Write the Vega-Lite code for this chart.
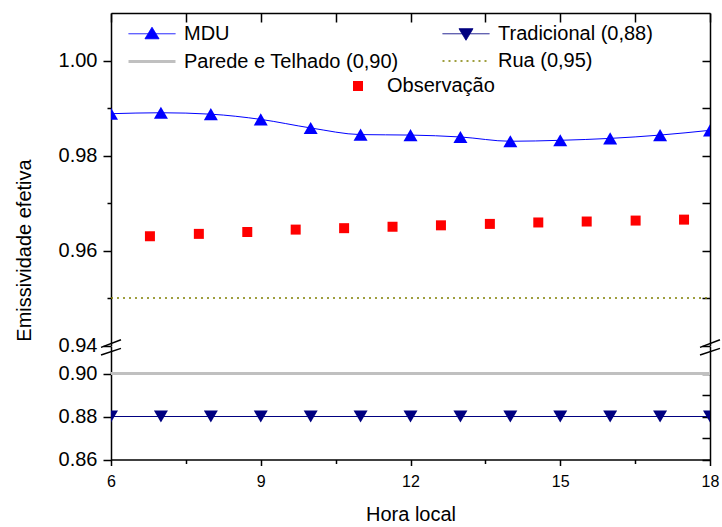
{
  "$schema": "https://vega.github.io/schema/vega-lite/v6.json",
  "padding": {"left": 14, "top": 12, "right": 0, "bottom": 0},
  "config": {
    "font": "Liberation Sans",
    "view": {"stroke": null},
    "axis": {"domainColor": "#000000", "tickColor": "#000000", "labelColor": "#000000", "titleColor": "#000000", "domainWidth": 1.5, "tickWidth": 1.5, "grid": false, "titleFontWeight": "normal", "labelFontSize": 20, "titleFontSize": 20, "labelFlush": false, "labelOverlap": false},
    "legend": {"labelColor": "#000000", "labelFontSize": 20, "labelLimit": 400, "symbolOpacity": 1}
  },
  "datasets": {
    "mdu": [
      {"hora": 6, "valor": 0.9888, "serie": "MDU"},
      {"hora": 7, "valor": 0.9890, "serie": "MDU"},
      {"hora": 8, "valor": 0.9887, "serie": "MDU"},
      {"hora": 9, "valor": 0.9876, "serie": "MDU"},
      {"hora": 10, "valor": 0.9858, "serie": "MDU"},
      {"hora": 11, "valor": 0.9844, "serie": "MDU"},
      {"hora": 12, "valor": 0.9843, "serie": "MDU"},
      {"hora": 13, "valor": 0.9839, "serie": "MDU"},
      {"hora": 14, "valor": 0.9830, "serie": "MDU"},
      {"hora": 15, "valor": 0.9832, "serie": "MDU"},
      {"hora": 16, "valor": 0.9836, "serie": "MDU"},
      {"hora": 17, "valor": 0.9843, "serie": "MDU"},
      {"hora": 18, "valor": 0.9853, "serie": "MDU"}
    ],
    "obs": [
      {"hora": 6.78, "valor": 0.9630, "serie": "Observação"},
      {"hora": 7.76, "valor": 0.9635, "serie": "Observação"},
      {"hora": 8.73, "valor": 0.9639, "serie": "Observação"},
      {"hora": 9.70, "valor": 0.9644, "serie": "Observação"},
      {"hora": 10.67, "valor": 0.9647, "serie": "Observação"},
      {"hora": 11.64, "valor": 0.9650, "serie": "Observação"},
      {"hora": 12.61, "valor": 0.9653, "serie": "Observação"},
      {"hora": 13.59, "valor": 0.9656, "serie": "Observação"},
      {"hora": 14.56, "valor": 0.9659, "serie": "Observação"},
      {"hora": 15.53, "valor": 0.9661, "serie": "Observação"},
      {"hora": 16.51, "valor": 0.9663, "serie": "Observação"},
      {"hora": 17.48, "valor": 0.9665, "serie": "Observação"}
    ],
    "trad": [
      {"hora": 6, "valor": 0.88, "serie": "Tradicional (0,88)"},
      {"hora": 7, "valor": 0.88, "serie": "Tradicional (0,88)"},
      {"hora": 8, "valor": 0.88, "serie": "Tradicional (0,88)"},
      {"hora": 9, "valor": 0.88, "serie": "Tradicional (0,88)"},
      {"hora": 10, "valor": 0.88, "serie": "Tradicional (0,88)"},
      {"hora": 11, "valor": 0.88, "serie": "Tradicional (0,88)"},
      {"hora": 12, "valor": 0.88, "serie": "Tradicional (0,88)"},
      {"hora": 13, "valor": 0.88, "serie": "Tradicional (0,88)"},
      {"hora": 14, "valor": 0.88, "serie": "Tradicional (0,88)"},
      {"hora": 15, "valor": 0.88, "serie": "Tradicional (0,88)"},
      {"hora": 16, "valor": 0.88, "serie": "Tradicional (0,88)"},
      {"hora": 17, "valor": 0.88, "serie": "Tradicional (0,88)"},
      {"hora": 18, "valor": 0.88, "serie": "Tradicional (0,88)"}
    ],
    "parede": [
      {"hora": 6, "valor": 0.90, "serie": "Parede e Telhado (0,90)"},
      {"hora": 18, "valor": 0.90, "serie": "Parede e Telhado (0,90)"}
    ],
    "rua": [
      {"hora": 6, "valor": 0.95, "serie": "Rua (0,95)"},
      {"hora": 18, "valor": 0.95, "serie": "Rua (0,95)"}
    ]
  },
  "spacing": 0,
  "bounds": "flush",
  "resolve": {"scale": {"color": "independent", "fill": "independent", "shape": "independent", "strokeDash": "independent", "strokeWidth": "independent"}},
  "vconcat": [
    {
      "width": 599,
      "height": 332.5,
      "resolve": {"scale": {"y": "independent"}, "axis": {"y": "independent"}},
      "layer": [
        {
          "layer": [
            {
              "data": {"name": "mdu"},
              "mark": {"type": "line", "interpolate": "monotone", "strokeWidth": 1, "clip": true},
              "encoding": {
                "x": {"field": "hora", "type": "quantitative", "scale": {"domain": [6, 18], "nice": false, "zero": false},
                  "axis": {"orient": "top", "values": [6, 7.5, 9, 10.5, 12, 13.5, 15, 16.5, 18], "labels": false, "tickSize": -9, "title": null}},
                "y": {"field": "valor", "type": "quantitative", "scale": {"domain": [0.94, 1.01], "nice": false, "zero": false},
                  "axis": {"orient": "left", "values": [0.94, 0.95, 0.96, 0.97, 0.98, 0.99, 1.0], "format": ".2f",
                    "labelExpr": "round(datum.value*100) % 2 == 0 ? datum.label : ''",
                    "tickSize": {"condition": {"test": "round(datum.value*100) % 2 == 0", "value": 8}, "value": 4},
                    "labelPadding": 6,
                    "title": "Emissividade efetiva", "titleX": -77, "titleY": 237, "titleAngle": 270, "titleAlign": "center", "titleBaseline": "bottom"}},
                "color": {"field": "serie", "type": "nominal",
                  "scale": {"domain": ["MDU", "Parede e Telhado (0,90)", "Tradicional (0,88)", "Rua (0,95)"], "range": ["#0000ff", "#c0c0c0", "#000080", "#808000"]},
                  "legend": {
                    "orient": "none", "legendX": 16, "legendY": 10, "columns": 2, "columnPadding": 40, "rowPadding": 6,
                    "title": null, "padding": 0, "symbolSize": 400, "labelOffset": 34, "labelFontSize": 20, "symbolOpacity": 1}}
              }
            },
            {
              "data": {"name": "mdu"},
              "mark": {"type": "point", "shape": "triangle-up", "filled": true, "size": 196, "opacity": 1, "clip": true},
              "encoding": {
                "x": {"field": "hora", "type": "quantitative", "scale": {"domain": [6, 18], "nice": false, "zero": false}},
                "y": {"field": "valor", "type": "quantitative", "scale": {"domain": [0.94, 1.01], "nice": false, "zero": false}},
                "color": {"field": "serie", "type": "nominal"}
              }
            },
            {
              "data": {"name": "mdu"},
              "mark": {"type": "point", "filled": true, "opacity": 0, "clip": true},
              "encoding": {
                "x": {"field": "hora", "type": "quantitative", "scale": {"domain": [6, 18], "nice": false, "zero": false}},
                "y": {"field": "valor", "type": "quantitative", "scale": {"domain": [0.94, 1.01], "nice": false, "zero": false}},
                "color": {"field": "serie", "type": "nominal"},
                "shape": {"field": "serie", "type": "nominal",
                  "scale": {"domain": ["MDU", "Parede e Telhado (0,90)", "Tradicional (0,88)", "Rua (0,95)"],
                    "range": ["M-1,0H3.7M0.65,0.5L1.35,-0.65L2.05,0.5Z", "M-1,0H3.7", "M-1,0H3.7M0.65,-0.5L1.35,0.65L2.05,-0.5Z", "M-1,0H3.7"]},
                  "legend": {"symbolOpacity": 1}},
                "strokeDash": {"field": "serie", "type": "nominal",
                  "scale": {"domain": ["MDU", "Parede e Telhado (0,90)", "Tradicional (0,88)", "Rua (0,95)"],
                    "range": [[1, 0], [1, 0], [1, 0], [2, 4]]},
                  "legend": {"symbolOpacity": 1}},
                "strokeWidth": {"field": "serie", "type": "nominal",
                  "scale": {"type": "ordinal", "domain": ["MDU", "Parede e Telhado (0,90)", "Tradicional (0,88)", "Rua (0,95)"],
                    "range": [1, 3, 1, 1.5]},
                  "legend": {"symbolOpacity": 1}}
              }
            },
            {
              "data": {"name": "obs"},
              "mark": {"type": "point", "shape": "square", "filled": true, "size": 100, "color": "#ff0000", "opacity": 1},
              "encoding": {
                "x": {"field": "hora", "type": "quantitative", "scale": {"domain": [6, 18], "nice": false, "zero": false}},
                "y": {"field": "valor", "type": "quantitative", "scale": {"domain": [0.94, 1.01], "nice": false, "zero": false}},
                "fill": {"field": "serie", "type": "nominal", "scale": {"domain": ["Observação"], "range": ["#ff0000"]},
                  "legend": {"orient": "none", "legendX": 237, "legendY": 63, "title": null, "padding": 0, "symbolSize": 100,
                    "symbolType": "square", "labelOffset": 19, "labelFontSize": 20}}
              }
            },
            {
              "data": {"values": [{}]},
              "mark": {"type": "rule", "color": "#000000", "strokeWidth": 1.5, "clip": false},
              "encoding": {
                "x": {"datum": 5.8, "type": "quantitative", "scale": {"domain": [6, 18], "nice": false, "zero": false}},
                "x2": {"datum": 6.2},
                "y": {"datum": 0.9396, "type": "quantitative", "scale": {"domain": [0.94, 1.01], "nice": false, "zero": false}},
                "y2": {"datum": 0.9412}
              }
            },
            {
              "data": {"values": [{}]},
              "mark": {"type": "rule", "color": "#000000", "strokeWidth": 1.5, "clip": false},
              "encoding": {
                "x": {"datum": 5.8, "type": "quantitative", "scale": {"domain": [6, 18], "nice": false, "zero": false}},
                "x2": {"datum": 6.2},
                "y": {"datum": 0.9380, "type": "quantitative", "scale": {"domain": [0.94, 1.01], "nice": false, "zero": false}},
                "y2": {"datum": 0.9394}
              }
            },
            {
              "data": {"values": [{}]},
              "mark": {"type": "rule", "color": "#000000", "strokeWidth": 1.5, "clip": false},
              "encoding": {
                "x": {"datum": 17.8, "type": "quantitative", "scale": {"domain": [6, 18], "nice": false, "zero": false}},
                "x2": {"datum": 18.2},
                "y": {"datum": 0.9396, "type": "quantitative", "scale": {"domain": [0.94, 1.01], "nice": false, "zero": false}},
                "y2": {"datum": 0.9412}
              }
            },
            {
              "data": {"values": [{}]},
              "mark": {"type": "rule", "color": "#000000", "strokeWidth": 1.5, "clip": false},
              "encoding": {
                "x": {"datum": 17.8, "type": "quantitative", "scale": {"domain": [6, 18], "nice": false, "zero": false}},
                "x2": {"datum": 18.2},
                "y": {"datum": 0.9380, "type": "quantitative", "scale": {"domain": [0.94, 1.01], "nice": false, "zero": false}},
                "y2": {"datum": 0.9394}
              }
            }
          ]
        },
        {
          "data": {"name": "rua"},
          "mark": {"type": "line", "strokeDash": [2, 4], "strokeWidth": 1.5},
          "encoding": {
            "x": {"field": "hora", "type": "quantitative", "scale": {"domain": [6, 18], "nice": false, "zero": false}},
            "y": {"field": "valor", "type": "quantitative", "scale": {"domain": [0.94, 1.01], "nice": false, "zero": false},
              "axis": {"orient": "right", "values": [0.94, 0.95, 0.96, 0.97, 0.98, 0.99, 1.0], "labels": false, "tickSize": -8, "title": null}},
            "color": {"field": "serie", "type": "nominal"}
          }
        }
      ]
    },
    {
      "width": 599,
      "height": 113.5,
      "resolve": {"scale": {"y": "independent"}, "axis": {"y": "independent"}},
      "layer": [
        {
          "layer": [
            {
              "data": {"name": "trad"},
              "mark": {"type": "line", "strokeWidth": 1, "clip": true},
              "encoding": {
                "x": {"field": "hora", "type": "quantitative", "scale": {"domain": [6, 18], "nice": false, "zero": false},
                  "axis": {"orient": "bottom", "values": [6, 7.5, 9, 10.5, 12, 13.5, 15, 16.5, 18],
                    "labelExpr": "datum.value % 3 == 0 ? datum.label : ''",
                    "tickSize": {"condition": {"test": "datum.value % 3 == 0", "value": 6}, "value": 4},
                    "labelFontSize": 16, "labelPadding": 8, "title": "Hora local", "titlePadding": 15}},
                "y": {"field": "valor", "type": "quantitative", "scale": {"domain": [0.86, 0.9128], "nice": false, "zero": false},
                  "axis": {"orient": "left", "values": [0.86, 0.87, 0.88, 0.89, 0.9], "format": ".2f",
                    "labelExpr": "round(datum.value*100) % 2 == 0 ? datum.label : ''",
                    "tickSize": {"condition": {"test": "round(datum.value*100) % 2 == 0", "value": 8}, "value": 4},
                    "labelPadding": 6, "title": null}},
                "color": {"field": "serie", "type": "nominal",
                  "scale": {"domain": ["MDU", "Parede e Telhado (0,90)", "Tradicional (0,88)", "Rua (0,95)"], "range": ["#0000ff", "#c0c0c0", "#000080", "#808000"]},
                  "legend": null}
              }
            },
            {
              "data": {"name": "trad"},
              "mark": {"type": "point", "shape": "triangle-down", "filled": true, "size": 196, "opacity": 1, "clip": true},
              "encoding": {
                "x": {"field": "hora", "type": "quantitative", "scale": {"domain": [6, 18], "nice": false, "zero": false}},
                "y": {"field": "valor", "type": "quantitative", "scale": {"domain": [0.86, 0.9128], "nice": false, "zero": false}},
                "color": {"field": "serie", "type": "nominal"}
              }
            }
          ]
        },
        {
          "data": {"name": "parede"},
          "mark": {"type": "line", "strokeWidth": 3},
          "encoding": {
            "x": {"field": "hora", "type": "quantitative", "scale": {"domain": [6, 18], "nice": false, "zero": false}},
            "y": {"field": "valor", "type": "quantitative", "scale": {"domain": [0.86, 0.9128], "nice": false, "zero": false},
              "axis": {"orient": "right", "values": [0.86, 0.87, 0.88, 0.89, 0.9], "labels": false, "tickSize": -8, "title": null}},
            "color": {"field": "serie", "type": "nominal"}
          }
        }
      ]
    }
  ]
}
